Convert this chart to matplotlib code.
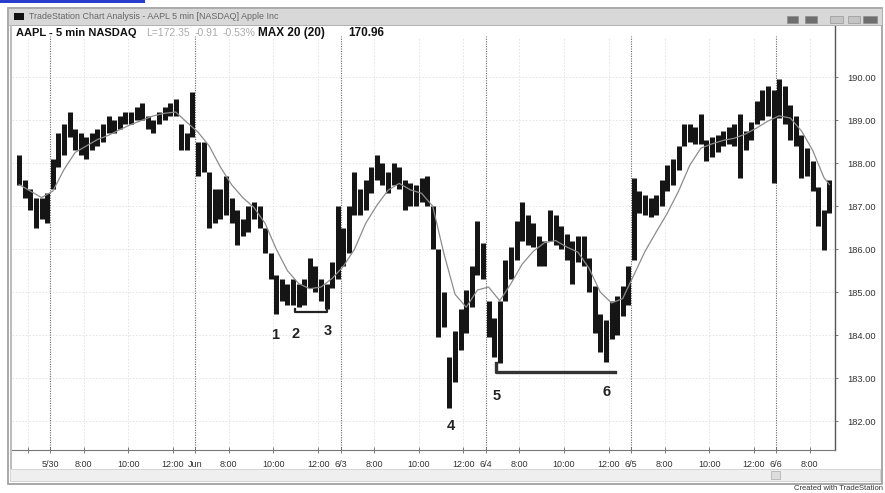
import numpy as np
import matplotlib
matplotlib.use("Agg")
import matplotlib.pyplot as plt
from matplotlib.patches import Rectangle

plt.rcParams['font.family'] = ['Liberation Sans', 'DejaVu Sans']

# AAPL, 15-minute bars (first bar = 11:30 PT on 5/29)
first_bar = 20
bar_high = [188.2, 187.6, 187.4, 187.2, 187.2, 187.3,
            # 5/30
            188.1, 188.7, 188.9, 189.2, 188.8, 188.7, 188.6, 188.7, 188.8, 188.9, 189.1, 189.0, 189.1,
            189.2, 189.2, 189.3, 189.4, 189.1, 189.0, 189.2, 189.3, 189.4, 189.5, 188.9, 188.7, 189.65,
            # 5/31
            188.5, 188.5, 187.8, 187.4, 187.4, 187.7, 187.2, 186.9, 186.7, 187.0, 187.1, 187.0, 186.5,
            185.9, 185.4, 185.3, 185.2, 185.3, 185.2, 185.3, 185.8, 185.6, 185.3, 185.2, 185.7, 187.0,
            # 6/3
            186.5, 187.0, 187.8, 187.4, 187.6, 187.9, 188.2, 188.0, 187.8, 188.0, 187.9, 187.6, 187.55,
            187.5, 187.65, 187.7, 187.0, 186.0, 185.0, 183.5, 184.1, 184.6, 185.05, 185.6, 186.65, 186.15,
            # 6/4
            184.8, 184.4, 184.8, 185.75, 186.05, 186.65, 187.1, 186.8, 186.6, 186.3, 186.2, 186.9, 186.8,
            186.55, 186.35, 186.2, 186.3, 186.3, 185.8, 185.15, 184.5, 184.35, 184.8, 184.9, 185.15, 185.6,
            # 6/5
            187.65, 187.35, 187.25, 187.2, 187.25, 187.6, 187.95, 188.1, 188.4, 188.9, 188.9, 188.85, 189.15,
            188.55, 188.6, 188.65, 188.75, 188.85, 188.9, 189.15, 188.75, 188.95, 189.45, 189.7, 189.8, 189.7,
            # 6/6
            189.95, 189.8, 189.35, 189.1, 188.65, 188.35, 188.05, 187.45, 186.9, 187.6]
bar_low = [187.5, 187.2, 186.9, 186.5, 186.7, 186.6,
           # 5/30
           187.4, 187.9, 188.2, 188.6, 188.3, 188.2, 188.1, 188.3, 188.4, 188.5, 188.7, 188.7, 188.8,
           188.9, 188.9, 189.0, 189.0, 188.8, 188.7, 188.9, 189.0, 189.1, 189.1, 188.3, 188.3, 188.6,
           # 5/31
           187.7, 187.8, 186.5, 186.6, 186.7, 186.8, 186.6, 186.1, 186.3, 186.4, 186.7, 186.5, 185.9,
           185.3, 184.5, 184.8, 184.7, 184.7, 184.65, 184.7, 185.1, 185.0, 184.8, 184.6, 185.1, 185.3,
           # 6/3
           185.6, 185.9, 186.8, 186.8, 186.9, 187.3, 187.6, 187.5, 187.3, 187.5, 187.4, 186.9, 187.0,
           187.0, 187.1, 187.0, 186.0, 183.95, 184.2, 182.3, 182.9, 183.65, 184.05, 184.65, 185.4, 185.3,
           # 6/4
           183.95, 183.5, 183.35, 184.8, 185.3, 185.75, 186.2, 186.1, 186.05, 185.6, 185.6, 186.2, 186.1,
           186.0, 185.75, 185.2, 185.7, 185.6, 185.0, 184.05, 183.6, 183.37, 183.9, 184.0, 184.45, 184.7,
           # 6/5
           185.75, 186.85, 186.8, 186.75, 186.8, 187.0, 187.35, 187.5, 187.85, 188.4, 188.5, 188.45, 188.45,
           188.05, 188.15, 188.25, 188.4, 188.45, 188.4, 187.65, 188.3, 188.55, 188.9, 189.0, 189.1, 187.55,
           # 6/6
           189.05, 188.9, 188.55, 188.4, 187.65, 187.7, 187.35, 186.55, 185.98, 186.85]

# MAX 20 moving average, read every second 15-min bar
ma_bar = [20, 22, 24, 26, 28, 30, 32, 34, 36, 38, 40, 42, 44, 46, 48, 50, 52, 54, 56, 58, 60, 62, 64,
          66, 68, 70, 72, 74, 76, 78, 80, 82, 84, 86, 88, 90, 92, 94, 96, 98, 100, 102, 104, 106, 108,
          110, 112, 114, 116, 118, 120, 122, 124, 126, 128, 130, 132, 134, 136, 138, 140, 142, 144, 146,
          148, 150, 152, 154, 156, 158, 160, 162, 164, 165]
ma_val = [187.5, 187.35, 187.2, 187.35, 187.85, 188.25, 188.4, 188.55, 188.65, 188.78, 188.9, 189.0,
          189.1, 189.16, 189.19, 188.95, 188.72, 188.4, 187.91, 187.5, 187.2, 186.97, 186.6, 186.0, 185.5,
          185.2, 185.08, 185.12, 185.32, 185.6, 186.0, 186.6, 187.02, 187.37, 187.53, 187.38, 187.3, 187.0,
          185.9, 184.95, 184.65, 185.05, 185.12, 184.8, 185.2, 185.65, 185.95, 186.15, 186.2, 186.05,
          185.93, 185.55, 185.0, 184.75, 184.85, 185.4, 185.95, 186.4, 186.84, 187.35, 187.95, 188.35,
          188.45, 188.53, 188.58, 188.68, 188.82, 188.98, 189.1, 189.05, 188.75, 188.3, 187.67, 187.5]

day_labels = ["5/30", "Jun", "6/3", "6/4", "6/5", "6/6"]
bars_per_day = 26
hour_labels = {6: "8:00", 14: "10:00", 22: "12:00"}
price_ticks = [182, 183, 184, 185, 186, 187, 188, 189, 190]

# labelled swing points: (label, bar, price)
marks = [("1", 66.3, 184.0), ("2", 70.0, 184.02), ("3", 75.8, 184.09),
         ("4", 97.8, 181.88), ("5", 106.0, 182.58), ("6", 125.7, 182.67)]

W, H = 885, 493
fig = plt.figure(figsize=(W / 100, H / 100), dpi=100)
fig.patch.set_facecolor("white")


def fx(px):
    return px / W


def fy(py):
    return 1 - py / H


ax = fig.add_axes([fx(12), fy(450), fx(835) - fx(12), fy(26) - fy(450)])
ax.set_facecolor("white")

x = np.arange(first_bar, first_bar + len(bar_high)) + 0.5
ax.set_xlim(19.2, 166.5)
ax.set_ylim(181.33, 191.19)

# grid
day_starts = [bars_per_day * (i + 1) for i in range(len(day_labels))]
tick_pos, tick_lab = [], []
for d in range(0, 7):
    start = bars_per_day * d
    if d > 0:
        tick_pos.append(start)
        tick_lab.append(day_labels[d - 1])
    for off, lab in hour_labels.items():
        p = start + off
        if 19.2 < p < 166:
            tick_pos.append(p)
            tick_lab.append(lab if p > 24 else "")
for p in tick_pos:
    if p not in day_starts:
        ax.vlines(p, 181.33, 190.9, colors="#e0e0e0", lw=0.6, linestyles=(0, (2, 2)), zorder=0)
for p in price_ticks:
    ax.axhline(p, color="#e0e0e0", lw=0.6, ls=(0, (2, 2)), zorder=0)
ax.vlines(day_starts, 181.33, 190.95, colors="#6a6a6a", lw=0.8, linestyles=(0, (1, 1.2)), zorder=1)

# price bars and average
ax.vlines(x, bar_low, bar_high, colors="#151515", lw=3.6, zorder=3)
ax.plot(np.array(ma_bar) + 0.5, ma_val, color="#8c8c8c", lw=0.9, zorder=4)

# support lines
ax.plot([69.9, 69.9, 75.6, 75.6], [184.62, 184.53, 184.53, 184.62], color="#222", lw=1.6, zorder=5)
ax.plot([105.84, 105.84, 127.15], [183.35, 183.14, 183.14], color="#333", lw=2.4, zorder=5)
for lab, bx, py in marks:
    ax.text(bx, py, lab, fontsize=10.5, fontweight="bold", ha="center", va="center", color="#222")

ax.set_xticks(tick_pos)
ax.set_xticklabels(tick_lab, fontsize=6.5, color="#333")
ax.tick_params(axis="x", direction="inout", length=4, width=0.6, color="#666", pad=5)
ax.yaxis.tick_right()
ax.set_yticks(price_ticks)
ax.set_yticklabels([f"{p:.2f}" for p in price_ticks], fontsize=6.7, color="#333")
ax.tick_params(axis="y", direction="out", length=2, width=0.6, color="#666", pad=7)
for s in ["left", "top"]:
    ax.spines[s].set_visible(False)
ax.spines["right"].set_color("#555")
ax.spines["right"].set_linewidth(1.0)
ax.spines["bottom"].set_color("#777")
ax.spines["bottom"].set_linewidth(0.8)

# window chrome
fig.patches.append(Rectangle((fx(8), fy(484)), fx(882) - fx(8), fy(8) - fy(484),
                             transform=fig.transFigure, fill=False, ec="#9a9a9a", lw=1.2, zorder=0))
fig.patches.append(Rectangle((fx(8), fy(25)), fx(882) - fx(8), fy(8) - fy(25),
                             transform=fig.transFigure, fc="#d8d8d8", ec="#a8a8a8", lw=0.6))
fig.patches.append(Rectangle((fx(14), fy(20)), fx(10), fy(13) - fy(20),
                             transform=fig.transFigure, fc="#111", ec="none"))
fig.text(fx(29), fy(16.5), "TradeStation Chart Analysis - AAPL 5 min [NASDAQ] Apple Inc",
         fontsize=6.4, color="#666", va="center")
for px0, w, c in [(787, 11, "#6e6e6e"), (805, 12, "#6e6e6e"), (830, 13, "#c4c4c4"),
                  (848, 12, "#c4c4c4"), (863, 14, "#6e6e6e")]:
    fig.patches.append(Rectangle((fx(px0), fy(23)), fx(w), fy(16) - fy(23),
                                 transform=fig.transFigure, fc=c, ec="#888", lw=0.4))
fig.patches.append(Rectangle((fx(10), fy(481)), fx(870), fy(469) - fy(481),
                             transform=fig.transFigure, fc="#efefef", ec="#cfcfcf", lw=0.6))
fig.patches.append(Rectangle((fx(771), fy(479)), fx(9), fy(471) - fy(479),
                             transform=fig.transFigure, fc="#dddddd", ec="#aaaaaa", lw=0.5))
fig.patches.append(Rectangle((fx(10), fy(469)), fx(2), fy(25) - fy(469),
                             transform=fig.transFigure, fc="#bdbdbd", ec="none"))
fig.patches.append(Rectangle((0, fy(3)), fx(145), fy(0) - fy(3),
                             transform=fig.transFigure, fc="#2a3dcc", ec="none"))

fig.text(fx(16), fy(33), "AAPL - 5 min NASDAQ", fontsize=8, fontweight="bold", va="center", color="#111")
fig.text(fx(146), fy(33), "L=172.35", fontsize=7.5, va="center", color="#aaaaaa")
fig.text(fx(195), fy(33), "-0.91", fontsize=7.5, va="center", color="#aaaaaa")
fig.text(fx(223), fy(33), "-0.53%", fontsize=7.5, va="center", color="#aaaaaa")
fig.text(fx(258), fy(33), "MAX 20 (20)", fontsize=8.5, fontweight="bold", va="center", color="#111")
fig.text(fx(348), fy(33), "170.96", fontsize=8.5, fontweight="bold", va="center", color="#111")
fig.text(fx(883), fy(489), "Created with TradeStation", fontsize=5.5, ha="right", va="center", color="#333")

fig.savefig("out.png", dpi=100)
